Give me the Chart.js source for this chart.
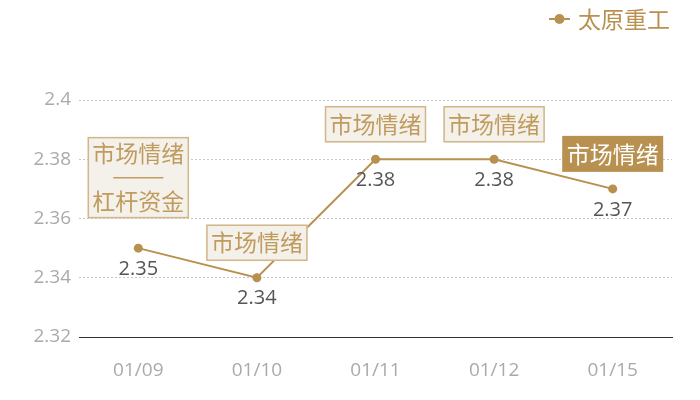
<!DOCTYPE html>
<html>
<head>
<meta charset="utf-8">
<script src="https://cdn.jsdelivr.net/npm/chart.js@4/dist/chart.umd.min.js"></script>
<style>
  html, body { margin: 0; padding: 0; background: #fff; }
  #wrap { width: 700px; height: 400px; }
</style>
</head>
<body>
<div id="wrap"><canvas id="chart"></canvas></div>
<script>
  // data
  const categories = ['01/09', '01/10', '01/11', '01/12', '01/15'];
  const prices = [2.35, 2.34, 2.38, 2.38, 2.37];
  const notes = [
    ['市场情绪', '—', '杠杆资金'],
    ['市场情绪'],
    ['市场情绪'],
    ['市场情绪'],
    ['市场情绪']
  ];
  const highlighted = [false, false, false, false, true];
  const seriesName = '太原重工';

  const GOLD = '#b8904f';
  const CJK = '"Noto Sans CJK SC", sans-serif';
  const NUM = '"Open Sans", "Noto Sans", sans-serif';

  // value labels, note boxes and legend
  const notePlugin = {
    id: 'notes',
    afterDatasetsDraw(chart) {
      const { ctx, scales: { x, y } } = chart;
      ctx.save();
      ctx.textAlign = 'center';
      ctx.textBaseline = 'middle';

      prices.forEach((v, i) => {
        const px = x.getPixelForValue(i);
        const py = y.getPixelForValue(v);

        ctx.font = '20px ' + NUM;
        ctx.fillStyle = '#555';
        ctx.fillText(v.toFixed(2), px, py + 21);

        const lines = notes[i];
        const w = 101;
        const h = lines.length === 1 ? 36 : 81;
        const bottom = py - (lines.length === 1 ? 17 : 30);
        const left = px - w / 2;
        const top = bottom - h;
        if (highlighted[i]) {
          ctx.fillStyle = GOLD;
          ctx.fillRect(left, top, w, h);
        } else {
          ctx.fillStyle = '#f4f0ea';
          ctx.fillRect(left, top, w, h);
          ctx.strokeStyle = '#d2b688';
          ctx.lineWidth = 1.5;
          ctx.strokeRect(left + 0.5, top + 0.5, w - 1, h - 1);
        }
        const txtColor = highlighted[i] ? '#fff' : '#c09b5e';
        ctx.fillStyle = txtColor;
        ctx.font = '23px ' + CJK;
        const step = 24;
        const mid = top + h / 2;
        lines.forEach((t, k) => {
          const ty = mid + (k - (lines.length - 1) / 2) * step;
          if (t === '—') {
            // separator rule between the two note lines
            ctx.strokeStyle = txtColor;
            ctx.lineWidth = 1.5;
            ctx.beginPath();
            ctx.moveTo(px - 25, ty);
            ctx.lineTo(px + 25, ty);
            ctx.stroke();
          } else {
            ctx.fillText(t, px, ty);
          }
        });
      });

      // legend
      ctx.strokeStyle = GOLD;
      ctx.lineWidth = 2;
      ctx.beginPath();
      ctx.moveTo(549, 19);
      ctx.lineTo(570, 19);
      ctx.stroke();
      ctx.fillStyle = GOLD;
      ctx.beginPath();
      ctx.arc(559.5, 19, 5, 0, Math.PI * 2);
      ctx.fill();
      ctx.font = '23px ' + CJK;
      ctx.textAlign = 'left';
      ctx.fillText(seriesName, 578, 19);
      ctx.restore();
    }
  };

  new Chart(document.getElementById('chart'), {
    type: 'line',
    data: {
      labels: categories,
      datasets: [{
        label: seriesName,
        data: prices,
        borderColor: GOLD,
        backgroundColor: GOLD,
        borderWidth: 2,
        pointRadius: 4.5,
        pointBackgroundColor: GOLD,
        pointBorderWidth: 0,
        tension: 0
      }]
    },
    options: {
      responsive: true,
      maintainAspectRatio: false,
      animation: false,
      layout: { padding: { top: 100, right: 28, left: 0, bottom: 0 } },
      plugins: {
        legend: { display: false },
        tooltip: { enabled: false }
      },
      scales: {
        x: {
          offset: true,
          grid: { display: false, drawTicks: false },
          border: { display: true, color: '#333', width: 1 },
          ticks: { color: '#aaa', font: { size: 19, family: NUM }, padding: 22 },
          afterFit(scale) { scale.height = 63; }
        },
        y: {
          min: 2.32,
          max: 2.4,
          grid: { color: '#c8c8c8', drawTicks: false, lineWidth: 1 },
          border: { display: false, dash: [2, 2] },
          ticks: {
            stepSize: 0.02,
            color: '#aaa',
            padding: 8,
            font: { size: 19, family: NUM },
            callback: (v) => Number(v.toFixed(2)).toString()
          },
          afterFit(scale) { scale.width = 79; }
        }
      }
    },
    plugins: [notePlugin]
  });
</script>
</body>
</html>
